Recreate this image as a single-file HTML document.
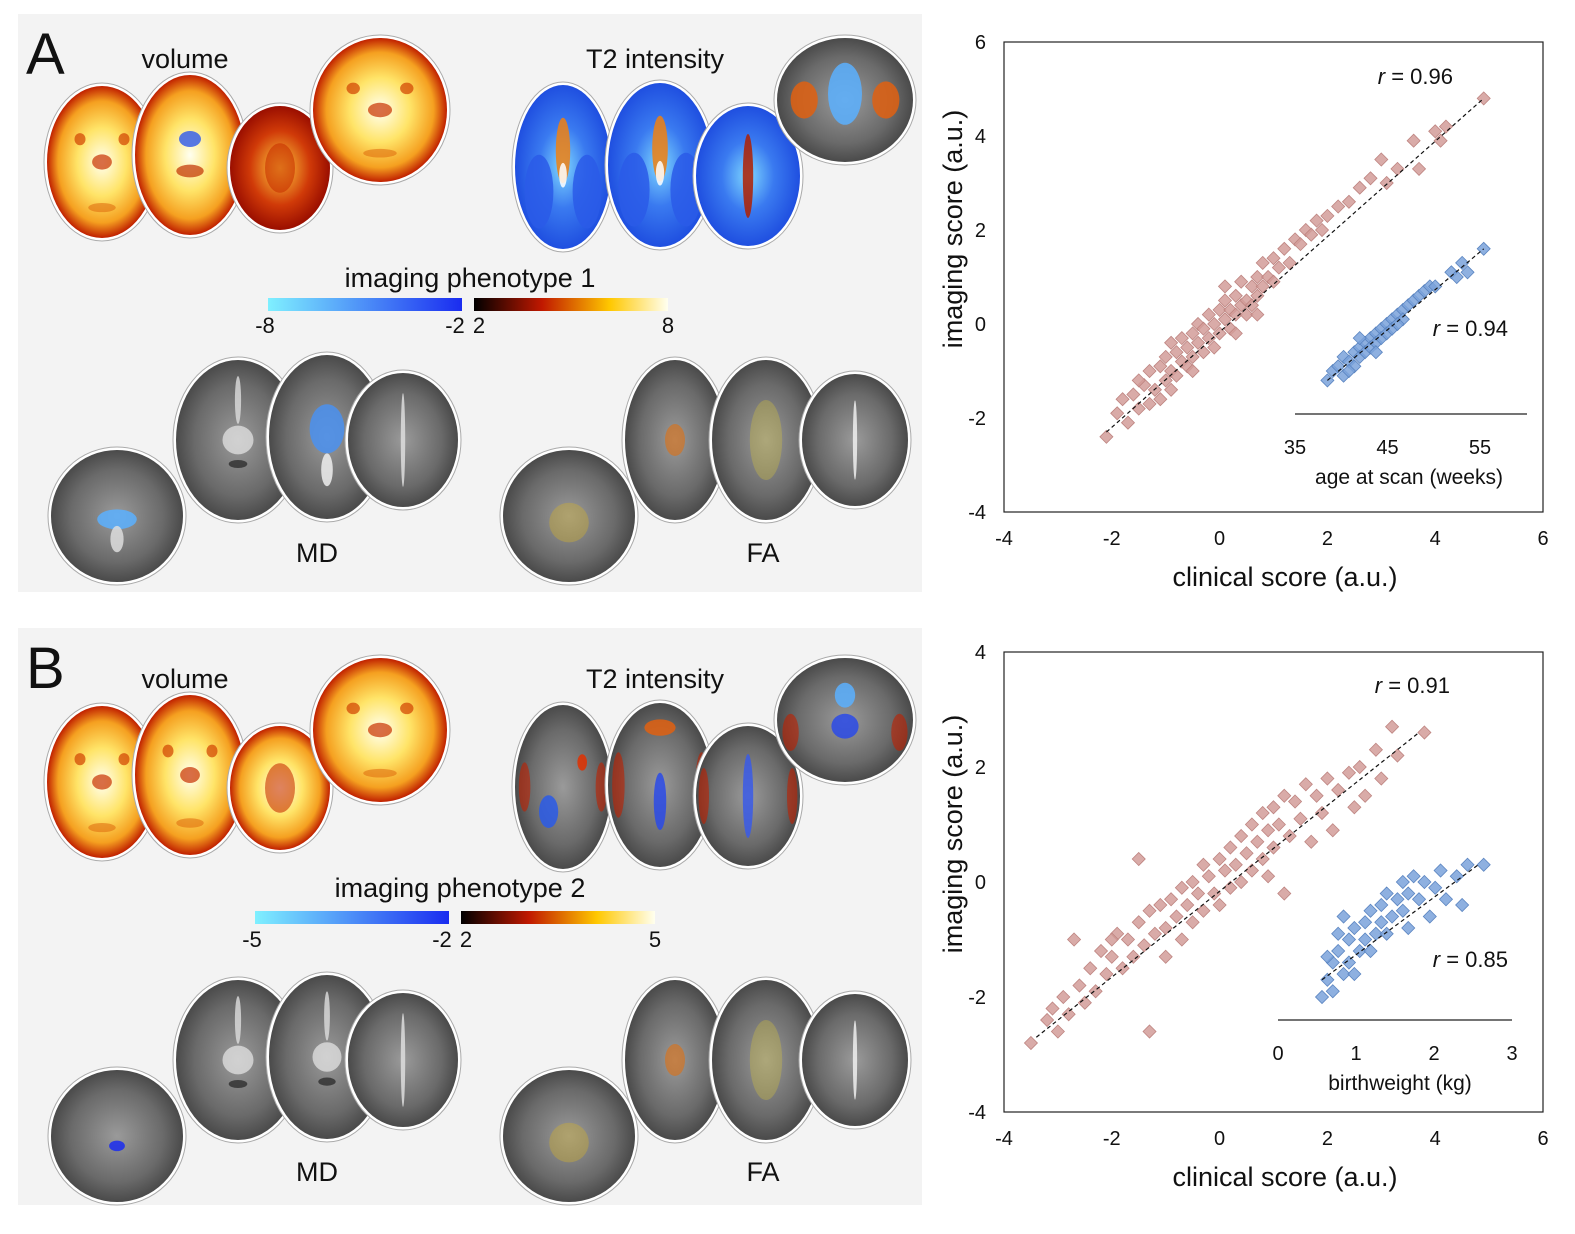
<!DOCTYPE html>
<html><head><meta charset="utf-8"><style>
body{margin:0;background:#fff;font-family:"Liberation Sans",sans-serif}
svg text{font-family:"Liberation Sans",sans-serif;fill:#111}
</style></head><body>
<svg id="fig" width="1575" height="1229" viewBox="0 0 1575 1229" xmlns="http://www.w3.org/2000/svg">
<defs>
<radialGradient id="gVol"><stop offset="0" stop-color="#fffff0"/><stop offset="0.45" stop-color="#ffe468"/><stop offset="0.8" stop-color="#f5a020"/><stop offset="1" stop-color="#c02000"/></radialGradient>
<radialGradient id="gRed"><stop offset="0" stop-color="#ffcf40"/><stop offset="0.6" stop-color="#d03a08"/><stop offset="1" stop-color="#9a0e00"/></radialGradient>
<radialGradient id="gBlue"><stop offset="0" stop-color="#7fd8ff"/><stop offset="0.5" stop-color="#3a7af0"/><stop offset="1" stop-color="#1f4fe0"/></radialGradient>
<radialGradient id="gGray"><stop offset="0" stop-color="#9a9a9a"/><stop offset="0.7" stop-color="#6a6a6a"/><stop offset="1" stop-color="#4a4a4a"/></radialGradient>
<linearGradient id="cbBlue" x1="0" x2="1"><stop offset="0" stop-color="#7ff0ff"/><stop offset="1" stop-color="#1a2cf0"/></linearGradient>
<linearGradient id="cbHot" x1="0" x2="1"><stop offset="0" stop-color="#000"/><stop offset="0.35" stop-color="#c01800"/><stop offset="0.7" stop-color="#ffc800"/><stop offset="1" stop-color="#fffff0"/></linearGradient>
</defs>

<rect x="18" y="14" width="904" height="578" fill="#f3f3f3"/>
<rect x="18" y="628" width="904" height="577" fill="#f3f3f3"/>
<g id="brains"></g>

<text x="26" y="74" font-size="58">A</text>
<text x="185" y="68" font-size="27" text-anchor="middle">volume</text>
<text x="655" y="68" font-size="27" text-anchor="middle">T2 intensity</text>
<text x="470" y="287" font-size="27" text-anchor="middle">imaging phenotype 1</text>
<rect x="268" y="298" width="194" height="13" fill="url(#cbBlue)"/>
<rect x="474" y="298" width="194" height="13" fill="url(#cbHot)"/>
<text x="265" y="333" font-size="22" text-anchor="middle">-8</text>
<text x="455" y="333" font-size="22" text-anchor="middle">-2</text>
<text x="479" y="333" font-size="22" text-anchor="middle">2</text>
<text x="668" y="333" font-size="22" text-anchor="middle">8</text>
<text x="317" y="562" font-size="27" text-anchor="middle">MD</text>
<text x="763" y="562" font-size="27" text-anchor="middle">FA</text>

<text x="26" y="688" font-size="58">B</text>
<text x="185" y="688" font-size="27" text-anchor="middle">volume</text>
<text x="655" y="688" font-size="27" text-anchor="middle">T2 intensity</text>
<text x="460" y="897" font-size="27" text-anchor="middle">imaging phenotype 2</text>
<rect x="255" y="911" width="194" height="13" fill="url(#cbBlue)"/>
<rect x="461" y="911" width="194" height="13" fill="url(#cbHot)"/>
<text x="252" y="947" font-size="22" text-anchor="middle">-5</text>
<text x="442" y="947" font-size="22" text-anchor="middle">-2</text>
<text x="466" y="947" font-size="22" text-anchor="middle">2</text>
<text x="655" y="947" font-size="22" text-anchor="middle">5</text>
<text x="317" y="1181" font-size="27" text-anchor="middle">MD</text>
<text x="763" y="1181" font-size="27" text-anchor="middle">FA</text>

<g id="chartA"></g>
<g id="chartB"></g>
</svg>
<script>
// ---- chart data ----
const xTicks = [-4,-2,0,2,4,6];
const yTicksA = [-4,-2,0,2,4,6];
const yTicksB = [-4,-2,0,2,4];
const redA_x = [-2.1,-1.9,-1.8,-1.7,-1.6,-1.5,-1.4,-1.3,-1.3,-1.2,-1.1,-1.1,-1.0,-1.0,-0.9,-0.9,-0.8,-0.8,-0.7,-0.7,-0.6,-0.6,-0.5,-0.5,-0.4,-0.4,-0.3,-0.3,-0.2,-0.2,-0.1,-0.1,0,0,0.1,0.1,0.2,0.2,0.3,0.3,0.4,0.4,0.5,0.5,0.6,0.6,0.7,0.7,0.8,0.8,0.9,1.0,1.0,1.1,1.2,1.3,1.4,1.5,1.6,1.7,1.8,1.9,2.0,2.2,2.4,2.6,2.8,3.0,3.1,3.3,3.6,3.7,4.0,4.1,4.2,4.9,-1.5,-0.5,0.3,-0.9,0.7,0.1];
const redA_y = [-2.4,-1.9,-1.6,-2.1,-1.5,-1.8,-1.3,-1.7,-1.0,-1.4,-0.9,-1.6,-1.2,-0.7,-1.0,-1.4,-0.6,-1.1,-0.8,-0.3,-0.9,-0.5,-0.2,-0.7,-0.4,0.0,-0.6,-0.1,0.2,-0.3,0.0,-0.5,0.3,-0.2,0.1,0.5,-0.1,0.3,0.6,0.2,0.4,0.9,0.5,0.2,0.8,0.4,1.0,0.6,0.8,1.3,1.0,1.4,0.9,1.2,1.6,1.3,1.8,1.7,2.0,1.9,2.2,2.0,2.3,2.5,2.6,2.9,3.1,3.5,3.0,3.3,3.9,3.3,4.1,3.9,4.2,4.8,-1.2,-1.0,-0.2,-0.4,0.2,0.8];
const blueA_x = [2.0,2.1,2.2,2.3,2.3,2.4,2.5,2.5,2.6,2.6,2.7,2.7,2.8,2.8,2.9,2.9,3.0,3.0,3.1,3.1,3.2,3.2,3.3,3.4,3.4,3.5,3.6,3.7,3.8,3.9,4.0,4.3,4.4,4.5,4.6,4.9,2.4,2.9,3.3,2.6];
const blueA_y = [-1.2,-1.0,-0.9,-1.1,-0.7,-0.8,-0.6,-0.9,-0.5,-0.7,-0.4,-0.6,-0.3,-0.5,-0.2,-0.4,-0.1,-0.3,0.0,-0.2,0.1,-0.1,0.2,0.3,0.1,0.4,0.5,0.6,0.7,0.8,0.8,1.1,1.0,1.3,1.1,1.6,-1.0,-0.6,0.0,-0.3];
const redB_x = [-3.5,-3.2,-3.1,-3.0,-2.9,-2.8,-2.7,-2.6,-2.5,-2.4,-2.3,-2.2,-2.1,-2.0,-1.9,-1.8,-1.7,-1.6,-1.5,-1.4,-1.3,-1.3,-1.2,-1.1,-1.0,-1.0,-0.9,-0.8,-0.7,-0.7,-0.6,-0.5,-0.5,-0.4,-0.3,-0.3,-0.2,-0.1,0,0,0.1,0.2,0.2,0.3,0.4,0.4,0.5,0.6,0.6,0.7,0.8,0.8,0.9,1.0,1.0,1.1,1.2,1.3,1.4,1.5,1.6,1.7,1.8,1.9,2.0,2.1,2.2,2.4,2.5,2.6,2.7,2.9,3.0,3.2,3.3,3.8,-1.5,0.9,1.2,-2.0];
const redB_y = [-2.8,-2.4,-2.2,-2.6,-2.0,-2.3,-1.0,-1.8,-2.1,-1.5,-1.9,-1.2,-1.6,-1.3,-0.9,-1.5,-1.0,-1.3,-0.7,-1.1,-2.6,-0.5,-0.9,-0.4,-0.8,-1.3,-0.3,-0.6,-0.1,-1.0,-0.4,0.0,-0.7,-0.2,0.3,-0.5,0.1,-0.2,0.4,-0.4,0.2,0.6,-0.1,0.3,0.8,0.0,0.5,1.0,0.2,0.7,1.2,0.4,0.9,1.3,0.6,1.0,1.5,0.8,1.4,1.1,1.7,0.7,1.5,1.2,1.8,0.9,1.6,1.9,1.3,2.0,1.5,2.3,1.8,2.7,2.2,2.6,0.4,0.1,-0.2,-1.0];
const blueB_x = [1.9,2.0,2.1,2.1,2.2,2.3,2.4,2.4,2.5,2.6,2.7,2.7,2.8,2.9,3.0,3.0,3.1,3.2,3.3,3.4,3.4,3.5,3.6,3.7,3.8,3.9,4.0,4.1,4.2,4.4,4.5,4.6,4.9,2.2,2.5,2.8,3.1,3.5,2.3,2.0];
const blueB_y = [-2.0,-1.7,-1.4,-1.9,-1.2,-1.6,-1.0,-1.4,-0.8,-1.2,-0.7,-1.0,-0.5,-0.9,-0.4,-0.7,-0.2,-0.6,-0.3,0.0,-0.5,-0.2,0.1,-0.3,0.0,-0.6,-0.1,0.2,-0.3,0.1,-0.4,0.3,0.3,-0.9,-1.6,-1.2,-0.9,-0.8,-0.6,-1.3];
const fitRedA = [-2.1,-2.3,4.9,4.8];
const fitBlueA = [2.0,-1.2,4.9,1.6];
const fitRedB = [-3.4,-2.7,3.7,2.6];
const fitBlueB = [1.9,-1.7,4.8,0.3];
const insetTicksA = [35,45,55];
const insetTicksB = [0,1,2,3];
const rValues = ["0.96","0.94","0.91","0.85"];

const NS="http://www.w3.org/2000/svg";
function mk(parent,tag,attrs,txt){const e=document.createElementNS(NS,tag);for(const k in attrs)e.setAttribute(k,attrs[k]);if(txt!==undefined)e.textContent=txt;parent.appendChild(e);return e;}

function drawChart(g,cfg){
  const sx=v=>cfg.x0+(v-(-4))/(10)*(cfg.x1-cfg.x0);
  const sy=v=>cfg.y1-(v-(-4))/(cfg.yMax+4)*(cfg.y1-cfg.y0);
  const frame=mk(g,'rect',{x:cfg.x0,y:cfg.y0,width:cfg.x1-cfg.x0,height:cfg.y1-cfg.y0,fill:'none',stroke:'#222','stroke-width':1.2});
  
  
  xTicks.forEach(t=>{
    const e=mk(g,'text',{x:sx(t),y:cfg.y1+33,'font-size':20,'text-anchor':'middle'},String(t));
    
    
  });
  cfg.yTicks.forEach(t=>{
    const e=mk(g,'text',{x:cfg.x0-18,y:sy(t)+7,'font-size':20,'text-anchor':'end'},String(t));
    
    
  });
  const xt=mk(g,'text',{x:1285,y:cfg.y1+74,'font-size':27,'text-anchor':'middle'},'clinical score  (a.u.)');
  
  
  const cy=(cfg.y0+cfg.y1)/2-48;
  const yt=mk(g,'text',{x:0,y:0,'font-size':27,'text-anchor':'middle',transform:`translate(962,${cy}) rotate(-90)`},'imaging score  (a.u.)');
  
  
  const ax=mk(g,'line',{x1:cfg.ix0,x2:cfg.ix1,y1:cfg.iy,y2:cfg.iy,stroke:'#222','stroke-width':1.2});
  
  
  const it=cfg.iTicks, n=it.length;
  it.forEach((t,i)=>{
    const x=cfg.ix0+(t-it[0])/(it[n-1]-it[0])*(cfg.ixEnd-cfg.ix0);
    const e=mk(g,'text',{x:x,y:cfg.iy+40,'font-size':20,'text-anchor':'middle'},String(t));
    
    
  });
  const il=mk(g,'text',{x:cfg.ilx,y:cfg.iy+70,'font-size':21,'text-anchor':'middle'},cfg.iLabel);
  
  
  function pts(xs,ys,fill,stroke,name){
    xs.forEach((v,i)=>{
      const x=sx(v),y=sy(ys[i]),s=6.5;
      const p=mk(g,'polygon',{points:`${x},${y-s} ${x+s},${y} ${x},${y+s} ${x-s},${y}`,fill:fill,stroke:stroke,'stroke-width':0.8,'fill-opacity':0.85});
      
      
    });
  }
  pts(cfg.rx,cfg.ry,'#d29c99','#be8480','clinical-point');
  pts(cfg.bx,cfg.by,'#7aa2da','#5a84c0','inset-point');
  [cfg.fr,cfg.fb].forEach(f=>{
    const l=mk(g,'line',{x1:sx(f[0]),y1:sy(f[1]),x2:sx(f[2]),y2:sy(f[3]),stroke:'#111','stroke-width':1.2,'stroke-dasharray':'4,3'});
    
    
  });
  cfg.rLab.forEach(r=>{
    const e=mk(g,'text',{x:r[0],y:r[1],'font-size':22,'text-anchor':'end'});
    mk(e,'tspan',{'font-style':'italic'},'r');
    mk(e,'tspan',{},' = '+r[2]);
    
    
  });
}
drawChart(document.getElementById('chartA'),{x0:1004,x1:1543,y0:42,y1:512,yMax:6,yTicks:yTicksA,
  rx:redA_x,ry:redA_y,bx:blueA_x,by:blueA_y,fr:fitRedA,fb:fitBlueA,
  ix0:1295,ix1:1527,ixEnd:1480,iy:414,iTicks:insetTicksA,ilx:1409,iLabel:'age at scan (weeks)',
  rLab:[[1453,84,rValues[0]],[1508,336,rValues[1]]]});
drawChart(document.getElementById('chartB'),{x0:1004,x1:1543,y0:652,y1:1112,yMax:4,yTicks:yTicksB,
  rx:redB_x,ry:redB_y,bx:blueB_x,by:blueB_y,fr:fitRedB,fb:fitBlueB,
  ix0:1278,ix1:1512,ixEnd:1512,iy:1020,iTicks:insetTicksB,ilx:1400,iLabel:'birthweight (kg)',
  rLab:[[1450,693,rValues[2]],[1508,967,rValues[3]]]});

// ---- brain slice illustrations ----
const bg=document.getElementById('brains');
function slice(cx,cy,rx,ry,fill,name,blobs){
  const s=mk(bg,'ellipse',{cx:cx,cy:cy,rx:rx+3,ry:ry+3,fill:'#fff',stroke:'#aaa','stroke-width':1});
  
  
  const e=mk(bg,'ellipse',{cx:cx,cy:cy,rx:rx,ry:ry,fill:fill});
  
  
  (blobs||[]).forEach(b=>{
    const q=mk(bg,'ellipse',{cx:cx+b[0]*rx,cy:cy+b[1]*ry,rx:b[2]*rx,ry:b[3]*ry,fill:b[4],'fill-opacity':b[5]||0.85});
    
    
  });
}
const volBlobs=[[0,0,0.18,0.1,'#c83000',0.7],[-0.4,-0.3,0.1,0.08,'#d04000',0.7],[0.4,-0.3,0.1,0.08,'#d04000',0.7],[0,0.6,0.25,0.06,'#e07010',0.6]];
const t2Blobs=[[-0.5,0.3,0.3,0.45,'#2a5ae8'],[0.5,0.3,0.3,0.45,'#2a5ae8'],[0,-0.2,0.15,0.4,'#f08010'],[0,0.1,0.08,0.15,'#fff']];
const grayBlobs=[[0,0,0.25,0.18,'#e8e8e8',0.7],[0,-0.5,0.05,0.3,'#ddd',0.8],[0,0.3,0.15,0.05,'#222',0.7]];
function panel(dy,p){
  slice(102,162+dy,55,76,'url(#gVol)','volume-slice',volBlobs);
  slice(190,155+dy,55,80,'url(#gVol)','volume-slice',p?[[0,-0.2,0.2,0.1,'#3a60e8'],[0,0.2,0.25,0.08,'#c03000',0.7]]:volBlobs);
  slice(280,168+dy,50,62,p?'url(#gRed)':'url(#gVol)','volume-slice',[[0,0,0.3,0.4,'#c83000',0.6]]);
  slice(380,110+dy,67,72,'url(#gVol)','volume-slice',volBlobs);
  slice(563,167+dy,48,82,p?'url(#gBlue)':'url(#gGray)','t2-slice',p?t2Blobs:[[-0.3,0.3,0.2,0.2,'#2a5ae8'],[0.4,-0.3,0.1,0.1,'#e03000'],[-0.8,0,0.12,0.3,'#c02000',0.6],[0.8,0,0.12,0.3,'#c02000',0.6]]);
  slice(660,165+dy,52,82,p?'url(#gBlue)':'url(#gGray)','t2-slice',p?t2Blobs:[[0,0.2,0.12,0.35,'#2a4ae8'],[0,-0.7,0.3,0.1,'#e06010'],[-0.8,0,0.12,0.4,'#c02000',0.6],[0.8,0,0.12,0.4,'#c02000',0.6]]);
  slice(748,176+dy,52,70,p?'url(#gBlue)':'url(#gGray)','t2-slice',p?[[0,0,0.1,0.6,'#b02000']]:[[0,0,0.1,0.6,'#3a5ae8'],[-0.85,0,0.1,0.4,'#c02000',0.6],[0.85,0,0.1,0.4,'#c02000',0.6]]);
  slice(845,100+dy,68,62,'url(#gGray)','t2-slice',p?[[0,-0.1,0.25,0.5,'#5ab0ff'],[-0.6,0,0.2,0.3,'#e06010'],[0.6,0,0.2,0.3,'#e06010']]:[[0,-0.4,0.15,0.2,'#5ab0ff'],[0,0.1,0.2,0.2,'#2a4ae8'],[-0.8,0.2,0.12,0.3,'#c02000',0.6],[0.8,0.2,0.12,0.3,'#c02000',0.6]]);
  slice(117,516+dy,66,66,'url(#gGray)','md-slice',p?[[0,0.05,0.3,0.15,'#5ab0ff'],[0,0.35,0.1,0.2,'#ddd']]:[[0,0.15,0.12,0.08,'#1a2cf0']]);
  slice(238,440+dy,62,80,'url(#gGray)','md-slice',grayBlobs);
  slice(327,437+dy,58,82,'url(#gGray)','md-slice',p?[[0,-0.1,0.3,0.3,'#4a90f0'],[0,0.4,0.1,0.2,'#eee']]:grayBlobs);
  slice(403,440+dy,55,67,'url(#gGray)','md-slice',[[0,0,0.04,0.7,'#ddd']]);
  slice(569,516+dy,66,66,'url(#gGray)','fa-slice',[[0,0.1,0.3,0.3,'#d0b030',0.4]]);
  slice(675,440+dy,50,80,'url(#gGray)','fa-slice',[[0,0,0.2,0.2,'#e07010',0.6]]);
  slice(766,440+dy,54,80,'url(#gGray)','fa-slice',[[0,0,0.3,0.5,'#d0c040',0.35]]);
  slice(855,440+dy,53,66,'url(#gGray)','fa-slice',[[0,0,0.04,0.6,'#eee']]);
}
panel(0,true);
panel(620,false);
</script>
</body></html>
